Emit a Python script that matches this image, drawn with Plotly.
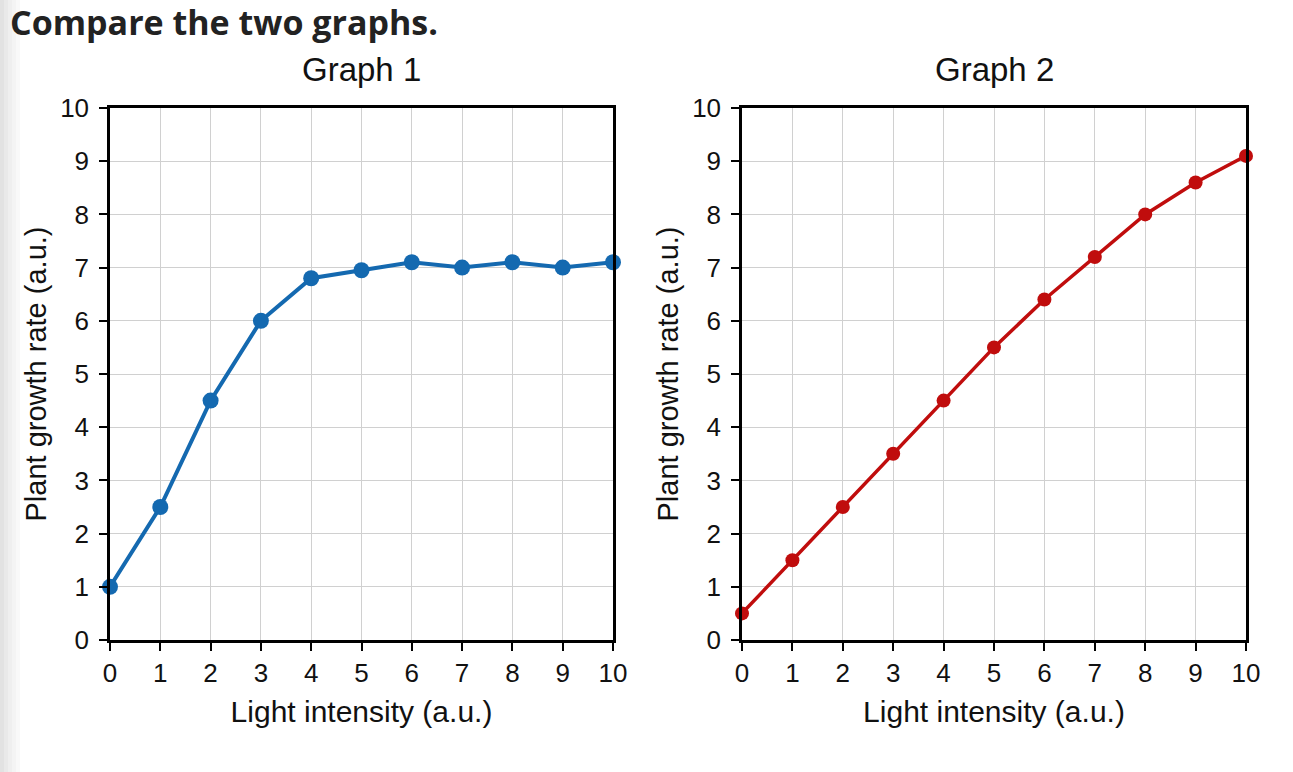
import plotly.graph_objects as go

light = [0, 1, 2, 3, 4, 5, 6, 7, 8, 9, 10]
growth1 = [1.0, 2.5, 4.5, 6.0, 6.8, 6.95, 7.1, 7.0, 7.1, 7.0, 7.1]
growth2 = [0.5, 1.5, 2.5, 3.5, 4.5, 5.5, 6.4, 7.2, 8.0, 8.6, 9.1]
tick_vals = list(range(0, 11))
page_title = "Compare the two graphs."
titles = ["Graph 1", "Graph 2"]
x_title = "Light intensity (a.u.)"
y_title = "Plant growth rate (a.u.)"

W, H = 1293, 772
fig = go.Figure()

fig.add_trace(go.Scatter(x=light, y=growth1, mode="lines+markers",
                         line=dict(color="#1469b0", width=4),
                         marker=dict(color="#1469b0", size=16),
                         xaxis="x", yaxis="y", cliponaxis=False, showlegend=False))
fig.add_trace(go.Scatter(x=light, y=growth2, mode="lines+markers",
                         line=dict(color="#c00d0d", width=3.5),
                         marker=dict(color="#c00d0d", size=14),
                         xaxis="x2", yaxis="y2", cliponaxis=False, showlegend=False))

dom1 = [110 / W, 613 / W]
dom2 = [742 / W, 1246 / W]
ydom = [1 - 640 / H, 1 - 108 / H]

FAM = "Liberation Sans, Arial, sans-serif"
axfont = dict(family=FAM, size=26, color="#111")

def xax(dom, anchor):
    return dict(domain=dom, anchor=anchor, range=[0, 10], tickvals=tick_vals,
                automargin=False,
                showgrid=True, gridcolor="#d0d0d0", gridwidth=1,
                showline=True, linecolor="black", linewidth=2.5, mirror=True,
                ticks="outside", ticklen=8, tickwidth=2, tickcolor="black",
                tickfont=axfont, zeroline=False,
                title=dict(text=x_title, font=dict(family=FAM, size=30, color="#111"),
                           standoff=15))

def yax(dom, anchor):
    return dict(domain=dom, anchor=anchor, range=[0, 10], tickvals=tick_vals,
                automargin=False, ticklabelstandoff=5,
                showgrid=True, gridcolor="#d0d0d0", gridwidth=1,
                showline=True, linecolor="black", linewidth=2.5, mirror=True,
                ticks="outside", ticklen=8, tickwidth=2, tickcolor="black",
                tickfont=axfont, zeroline=False,
                title=dict(text=y_title, font=dict(family=FAM, size=29, color="#111"),
                           standoff=5))

shapes = []
grays = ["#e2e2e2", "#e9e9e9", "#efefef", "#f4f4f4", "#f9f9f9"]
for i, g in enumerate(grays):
    shapes.append(dict(type="rect", xref="paper", yref="paper",
                       x0=i * 4 / W, x1=(i + 1) * 4 / W, y0=0, y1=1,
                       fillcolor=g, line=dict(width=0), layer="below"))

annotations = [
    dict(text="<b>" + page_title + "</b>", xref="paper", yref="paper",
         x=8 / W, y=1 - 22 / H, xanchor="left", yanchor="middle", showarrow=False,
         font=dict(family="Open Sans, sans-serif", size=34, color="#222")),
    dict(text=titles[0], xref="paper", yref="paper", x=(dom1[0] + dom1[1]) / 2,
         y=1 - 70 / H, xanchor="center", yanchor="middle", showarrow=False,
         font=dict(family=FAM, size=33, color="#111")),
    dict(text=titles[1], xref="paper", yref="paper", x=(dom2[0] + dom2[1]) / 2,
         y=1 - 70 / H, xanchor="center", yanchor="middle", showarrow=False,
         font=dict(family=FAM, size=33, color="#111")),
]

fig.update_layout(
    width=W, height=H, margin=dict(l=0, r=0, t=0, b=0, autoexpand=False),
    paper_bgcolor="white", plot_bgcolor="white",
    xaxis=xax(dom1, "y"), yaxis=yax(ydom, "x"),
    xaxis2=xax(dom2, "y2"), yaxis2=yax(ydom, "x2"),
    shapes=shapes, annotations=annotations,
)

fig.write_html("out.html", config={"displayModeBar": False},
               post_script="document.body.style.margin='0';document.body.style.overflow='hidden';")
